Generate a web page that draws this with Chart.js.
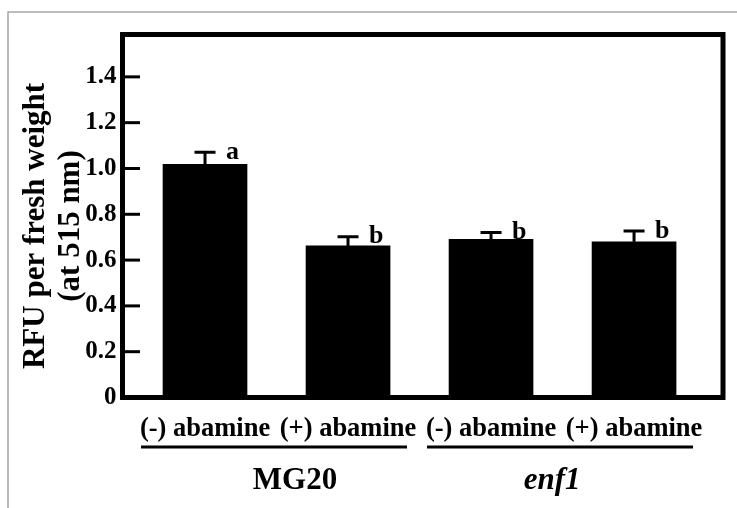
<!DOCTYPE html>
<html><head><meta charset="utf-8">
<script src="https://cdn.jsdelivr.net/npm/chart.js@4/dist/chart.umd.min.js"></script>
<style>html,body{margin:0;padding:0;background:#fff;overflow:hidden}canvas{display:block}</style>
</head><body>
<canvas id="c" width="737" height="508"></canvas>
<script>
const CATEGORIES = ['(-) abamine', '(+) abamine', '(-) abamine', '(+) abamine'];
const VALUES = [1.018, 0.662, 0.691, 0.680];
const ERRORS = [0.053, 0.040, 0.030, 0.047];
const LETTERS = ['a', 'b', 'b', 'b'];
const GROUPS = ['MG20', 'enf1'];
const GROUP_ITALIC = [false, true];
const GROUP_MEMBERS = [[0, 1], [2, 3]];
const Y_TICKS = [0, 0.2, 0.4, 0.6, 0.8, 1.0, 1.2, 1.4];
const Y_TITLE = ['RFU per fresh weight', '(at 515 nm)'];

const FONT = 'Liberation Serif';

const deco = {
  id: 'deco',
  beforeDraw(chart) {
    const ctx = chart.ctx;
    ctx.save();
    ctx.fillStyle = '#fff';
    ctx.fillRect(0, 0, chart.width, chart.height);
    ctx.strokeStyle = '#a6a6a6';
    ctx.lineWidth = 1.5;
    ctx.beginPath();
    ctx.moveTo(8, chart.height);
    ctx.lineTo(8, 12);
    ctx.lineTo(chart.width, 12);
    ctx.stroke();
    ctx.restore();
  },
  afterDatasetsDraw(chart) {
    const {ctx, chartArea: a, scales: {x, y}} = chart;
    ctx.save();
    ctx.strokeStyle = '#000';
    ctx.fillStyle = '#000';
    ctx.lineWidth = 5;
    ctx.strokeRect(a.left, a.top, a.right - a.left, a.bottom - a.top);
    ctx.lineWidth = 3;
    Y_TICKS.forEach(v => {
      if (v === 0) return;
      const py = y.getPixelForValue(v);
      ctx.beginPath();
      ctx.moveTo(a.left, py);
      ctx.lineTo(a.left + 17.5, py);
      ctx.stroke();
    });
    ctx.font = 'bold 26px "' + FONT + '"';
    ctx.textAlign = 'left';
    ctx.textBaseline = 'middle';
    VALUES.forEach((v, i) => {
      const px = x.getPixelForValue(i);
      const p0 = y.getPixelForValue(v);
      const p1 = y.getPixelForValue(v + ERRORS[i]);
      ctx.beginPath();
      ctx.moveTo(px, p0);
      ctx.lineTo(px, p1);
      ctx.moveTo(px - 10.5, p1);
      ctx.lineTo(px + 10.5, p1);
      ctx.stroke();
      ctx.fillText(LETTERS[i], px + 21, p1);
    });
    ctx.restore();
  },
  afterDraw(chart) {
    const {ctx, scales: {x}} = chart;
    ctx.save();
    ctx.fillStyle = '#000';
    ctx.strokeStyle = '#000';
    const dx = [21, -8];
    GROUP_MEMBERS.forEach((m, g) => {
      const l = x.getPixelForValue(m[0]) - 64;
      const r = x.getPixelForValue(m[m.length - 1]) + 59;
      ctx.lineWidth = 3;
      ctx.beginPath();
      ctx.moveTo(l, 447);
      ctx.lineTo(r, 447);
      ctx.stroke();
      ctx.font = (GROUP_ITALIC[g] ? 'italic ' : '') + 'bold 31px "' + FONT + '"';
      ctx.textAlign = 'center';
      ctx.textBaseline = 'alphabetic';
      ctx.fillText(GROUPS[g], (l + r) / 2 + dx[g], 489);
    });
    ctx.font = 'bold 31px "' + FONT + '"';
    ctx.textAlign = 'center';
    ctx.textBaseline = 'middle';
    const cy = 226;
    [36, 71].forEach((cx, k) => {
      ctx.save();
      ctx.translate(cx, cy);
      ctx.rotate(-Math.PI / 2);
      ctx.fillText(Y_TITLE[k], 0, 0);
      ctx.restore();
    });
    ctx.restore();
  }
};

new Chart(document.getElementById('c'), {
  type: 'bar',
  data: {
    datasets: [{
      data: VALUES.map((v, i) => ({x: i, y: v})),
      backgroundColor: '#000',
      borderWidth: 0,
      barThickness: 84
    }]
  },
  options: {
    responsive: false,
    animation: false,
    layout: {padding: {left: 0, right: 14, top: 34.5, bottom: 0}},
    plugins: {legend: {display: false}, tooltip: {enabled: false}},
    scales: {
      x: {
        type: 'linear',
        offset: false,
        min: -0.577,
        max: 3.622,
        grid: {display: false, drawTicks: false},
        border: {display: false},
        afterBuildTicks: s => { s.ticks = CATEGORIES.map((_, i) => ({value: i})); },
        ticks: {
          callback: v => CATEGORIES[v],
          font: {family: FONT, size: 26.5, weight: 'bold'},
          color: '#000',
          padding: 16,
          maxRotation: 0,
          autoSkip: false
        },
        afterFit: s => { s.height = 110.5; }
      },
      y: {
        min: 0,
        max: 1.585,
        grid: {display: false, drawTicks: false},
        border: {display: false},
        afterBuildTicks: s => { s.ticks = Y_TICKS.map(v => ({value: v})); },
        ticks: {
          callback: v => (v === 0 ? '0' : v.toFixed(1)),
          font: {family: FONT, size: 25, weight: 'bold'},
          color: '#000',
          padding: 6
        },
        afterFit: s => { s.width = 122.5; }
      }
    }
  },
  plugins: [deco]
});
</script>
</body></html>
